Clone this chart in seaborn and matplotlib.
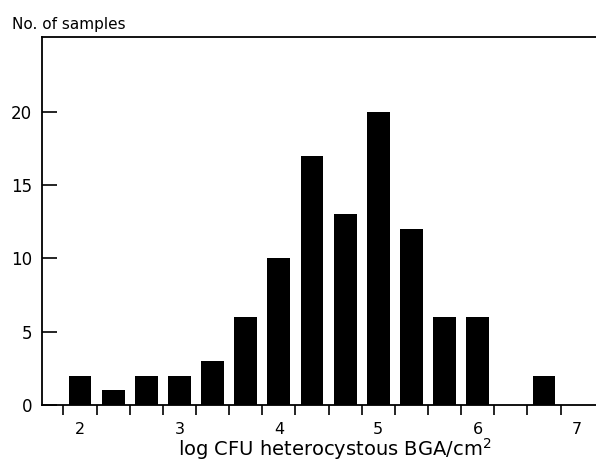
import matplotlib
matplotlib.use("Agg")
import matplotlib.pyplot as plt
import seaborn as sns
import pandas as pd

# Data: bin centres (log CFU) and number of samples
bin_centers = [2.0, 2.333, 2.667, 3.0, 3.333, 3.667, 4.0, 4.333, 4.667,
               5.0, 5.333, 5.667, 6.0, 6.333, 6.667]
counts = [2, 1, 2, 2, 3, 6, 10, 17, 13, 20, 12, 6, 6, 0, 2]
x_labels = [2, 3, 4, 5, 6, 7]
y_ticks = [0, 5, 10, 15, 20]

df = pd.DataFrame({"logcfu": bin_centers, "n": counts})

sns.set_style("ticks")
plt.rcParams["font.family"] = ["DejaVu Sans"]
plt.rcParams["text.color"] = "black"
plt.rcParams["xtick.color"] = "black"
plt.rcParams["ytick.color"] = "black"

fig = plt.figure(figsize=(5.96, 4.62), dpi=100)
ax = fig.add_axes([42 / 596, 1 - 405 / 462, 1 - 42 / 596, (405 - 37) / 462])

sns.barplot(data=df, x="logcfu", y="n", native_scale=True, color="black",
            saturation=1, width=0.69, linewidth=0, ax=ax)

ax.set_xlim(1.618, 7.19)
ax.set_ylim(0, 25.1)

# ticks at bin edges (no labels), labels at integer values (no tick marks)
half = (bin_centers[1] - bin_centers[0]) / 2
edges = [c - half for c in bin_centers] + [bin_centers[-1] + half]
ax.set_xticks(edges)
ax.set_xticklabels([])
ax.set_xticks(x_labels, minor=True)
ax.set_xticklabels([str(v) for v in x_labels], minor=True)
ax.tick_params(axis="x", which="major", direction="out", length=7, width=1.2,
               color="black")
ax.tick_params(axis="x", which="minor", length=0, pad=12, labelsize=11.5,
               labelcolor="black")

ax.set_yticks(y_ticks)
ax.set_yticklabels([str(v) for v in y_ticks])
ax.tick_params(axis="y", direction="in", length=11, width=1.2, pad=7,
               labelsize=12, color="black", labelcolor="black")

for s in ["left", "bottom", "top"]:
    ax.spines[s].set_visible(True)
    ax.spines[s].set_color("black")
    ax.spines[s].set_linewidth(1.3)
ax.spines["right"].set_visible(False)

ax.set_xlabel("")
ax.set_ylabel("")

fig.text(12 / 596, 1 - 29 / 462, "No. of samples", ha="left", va="baseline",
         fontsize=11, color="black")
fig.text(335 / 596, 1 - 456 / 462, "log CFU heterocystous BGA/cm$^{2}$",
         ha="center", va="baseline", fontsize=14, color="black")

fig.savefig("out.png", dpi=100)
